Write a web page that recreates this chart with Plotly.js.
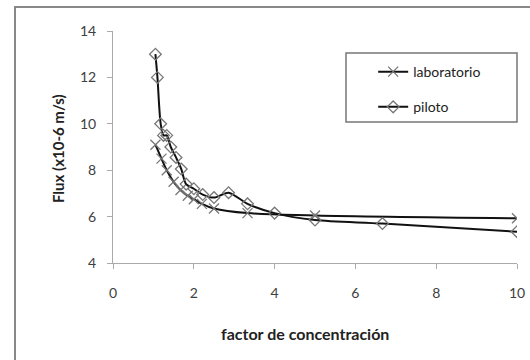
<!DOCTYPE html>
<html>
<head>
<meta charset="utf-8">
<script src="https://cdn.plot.ly/plotly-3.0.1.min.js"></script>
<style>html,body{margin:0;padding:0;background:#fff;}#chart{width:530px;height:360px;}</style>
</head>
<body>
<div id="chart"></div>
<script>
// Data
const labX = [1.05, 1.2, 1.33, 1.5, 1.67, 1.85, 2.0, 2.2, 2.5, 3.33, 5, 10];
const labY = [9.1, 8.5, 8.0, 7.5, 7.15, 6.9, 6.75, 6.55, 6.35, 6.15, 6.05, 5.93];
const pilX = [1.05, 1.1, 1.18, 1.25, 1.33, 1.43, 1.56, 1.69, 1.81, 2.0, 2.22, 2.5, 2.86, 3.33, 4.0, 5.0, 6.67, 10];
const pilY = [13, 12, 10, 9.5, 9.5, 9.0, 8.55, 8.05, 7.4, 7.2, 6.95, 6.82, 7.03, 6.55, 6.15, 5.85, 5.7, 5.35];
const xTicks = [0, 2, 4, 6, 8, 10];
const yTicks = [4, 6, 8, 10, 12, 14];
const names = ['laboratorio', 'piloto'];

const FONT = 'Lato, "Open Sans", sans-serif';

const traces = [
  {x: labX, y: labY, name: names[0], type: 'scatter', mode: 'lines+markers',
   line: {color: '#111', width: 2, shape: 'spline', smoothing: 1},
   marker: {symbol: 'x-thin-open', size: 10, color: '#777', line: {color: '#777', width: 1.3}},
   legendgroup: 'a'},
  {x: pilX, y: pilY, name: names[1], type: 'scatter', mode: 'lines+markers',
   line: {color: '#111', width: 2, shape: 'spline', smoothing: 0.8},
   marker: {symbol: 'diamond-open', size: 9, color: '#777', line: {color: '#777', width: 1.3}},
   legendgroup: 'b'}
];

const layout = {
  width: 530, height: 360,
  margin: {l: 113, r: 13, t: 31, b: 97},
  paper_bgcolor: '#fff', plot_bgcolor: '#fff',
  font: {family: FONT, color: '#404040', size: 14},
  showlegend: true,
  legend: {x: 0.644, y: 0.892, xanchor: 'left', yanchor: 'top',
           bgcolor: 'rgba(0,0,0,0)', borderwidth: 0,
           font: {family: FONT, size: 14, color: '#222'}, tracegroupgap: 14},
  xaxis: {range: [0, 10], tickvals: xTicks, showgrid: false, zeroline: false,
          showline: true, linecolor: '#aaa', linewidth: 1,
          ticks: 'outside', ticklen: 5, tickcolor: '#aaa', ticklabelstandoff: 12,
          tickfont: {family: FONT, size: 14, color: '#404040'}},
  yaxis: {range: [4, 14], tickvals: yTicks, showgrid: false, zeroline: false,
          showline: true, linecolor: '#aaa', linewidth: 1,
          ticks: 'outside', ticklen: 5, tickcolor: '#aaa', ticklabelstandoff: 8,
          tickfont: {family: FONT, size: 14, color: '#404040'}},
  shapes: [
    {type: 'rect', xref: 'paper', yref: 'paper', x0: -0.2426, x1: 1.06, y0: -0.45, y1: 1.1034,
     line: {color: '#888', width: 2}, fillcolor: 'rgba(0,0,0,0)'},
    {type: 'rect', xref: 'paper', yref: 'paper', x0: (346-113)/404, x1: (517-113)/404,
     y0: (263-122)/232, y1: (263-53)/232, line: {color: '#777', width: 1.5}, fillcolor: 'rgba(0,0,0,0)'}
  ],
  annotations: [
    {text: 'factor de concentración', xref: 'paper', yref: 'paper', x: (305-113)/404, y: (263-334)/232,
     xanchor: 'center', yanchor: 'middle', showarrow: false,
     font: {family: FONT, size: 16, color: '#222', weight: 'bold'}},
    {text: 'Flux (x10-6 m/s)', xref: 'paper', yref: 'paper', x: (58-113)/404, y: (263-148)/232,
     xanchor: 'center', yanchor: 'middle', showarrow: false, textangle: -90,
     font: {family: FONT, size: 15, color: '#222', weight: 'bold'}}
  ]
};

Plotly.newPlot('chart', traces, layout, {displayModeBar: false, staticPlot: true});
</script>
</body>
</html>
